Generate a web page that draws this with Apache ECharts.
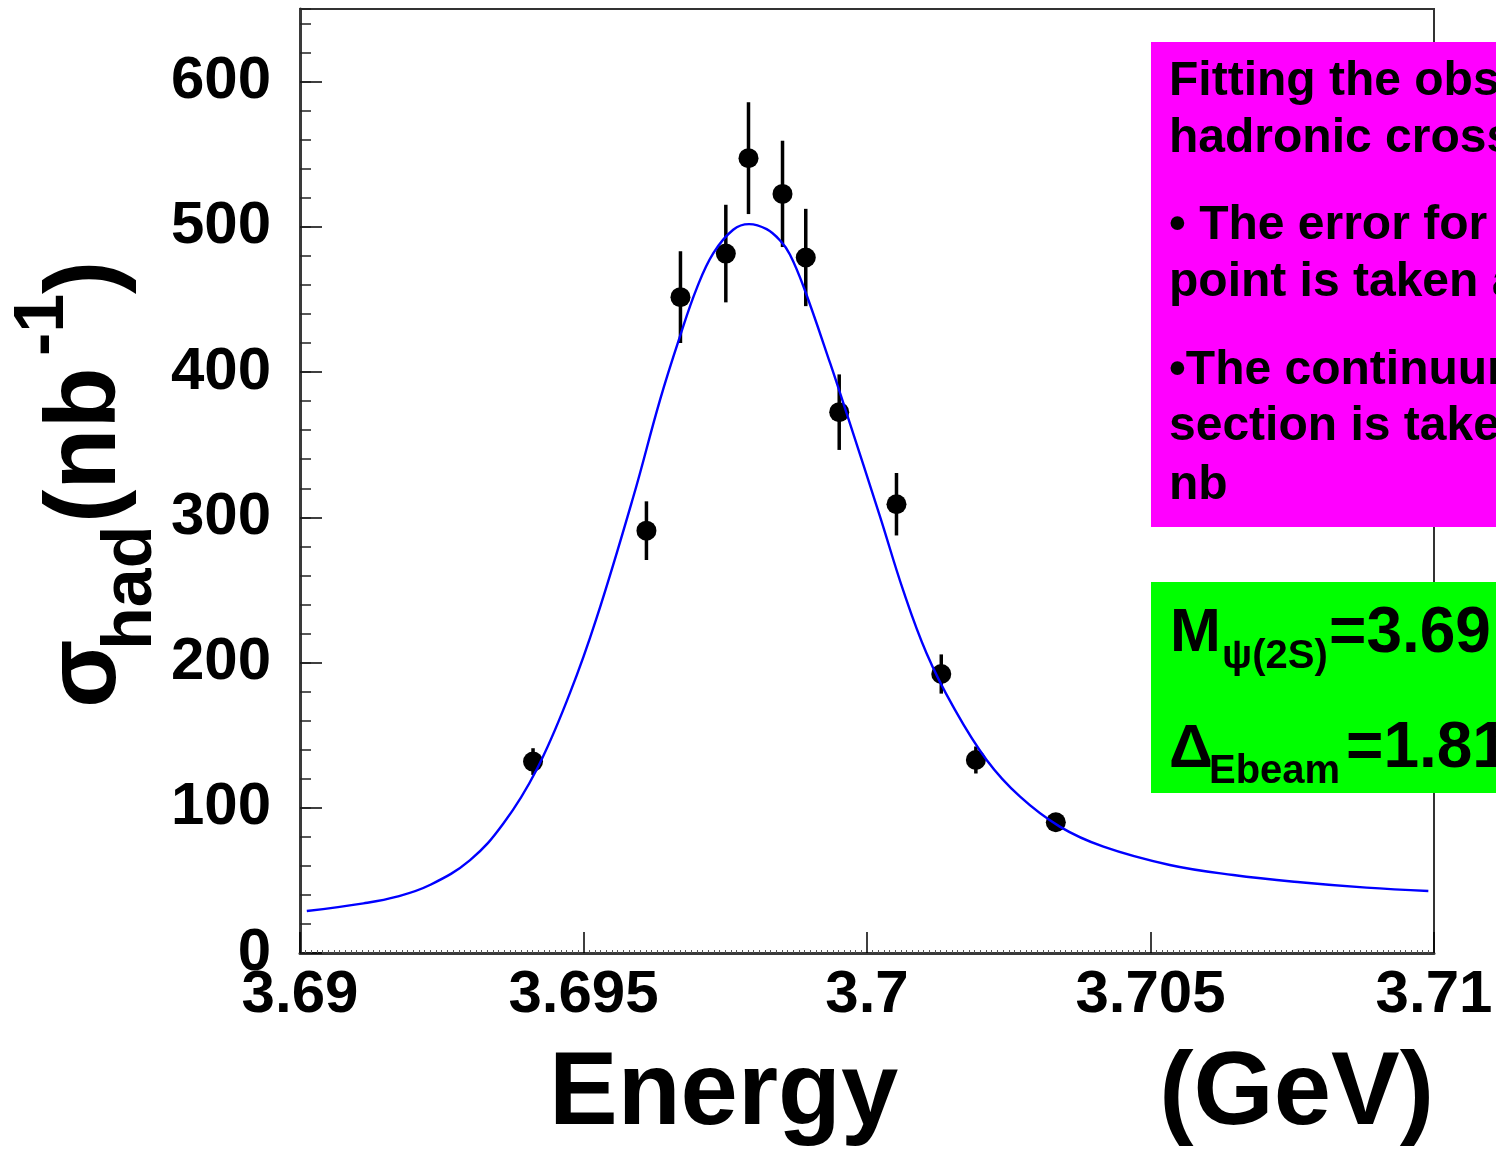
<!DOCTYPE html>
<html>
<head>
<meta charset="utf-8">
<script src="https://cdn.jsdelivr.net/npm/echarts@6/dist/echarts.min.js"></script>
<style>
html, body { margin: 0; padding: 0; background: #fff; }
#chart { width: 1496px; height: 1154px; }
</style>
</head>
<body>
<div id="chart"></div>
<script>
// Scan points: beam energy (GeV)
const energy = [3.69411, 3.69611, 3.69671, 3.69751, 3.69791, 3.69851, 3.69892, 3.69951, 3.70052, 3.70131, 3.70192, 3.70333];
// Observed hadronic cross section at each point (nb)
const sigma = [131.8, 290.8, 451.6, 481.6, 547.3, 522.7, 478.9, 372.4, 309.0, 192.1, 132.9, 90.0];
// Uncertainty of each point (nb)
const sigmaErr = [9.2, 20.2, 31.6, 33.6, 38.5, 36.6, 33.5, 26.0, 21.5, 13.5, 9.3, 6.3];

// Fitted resonance line shape
const fitEnergy = [3.69012, 3.69112, 3.69171, 3.69229, 3.69300, 3.69359, 3.69417, 3.69476, 3.69523,
  3.69588, 3.69635, 3.69670, 3.69700, 3.69729, 3.69764, 3.69792, 3.69823, 3.69847,
  3.69864, 3.69888, 3.69935, 3.69964, 3.70023, 3.70064, 3.70105, 3.70152, 3.70211, 3.70270,
  3.70340, 3.70417, 3.70534, 3.70646, 3.70764, 3.70881, 3.70990];
const fitSigma = [28.9, 34.2, 38.8, 46.8, 64.0, 89.3, 126.0, 178.9, 230.5,
  314.3, 380.9, 424.4, 458.0, 481.9, 498.0, 501.9, 498.4, 490.5,
  481.0, 458.9, 406.1, 371.7, 300.5, 249.5, 206.4, 169.6, 132.9, 107.6,
  87.0, 73.2, 60.6, 53.7, 48.7, 45.0, 42.7];

// Text of the annotation boxes
const noteLines = [
  'Fitting the observed',
  'hadronic cross section',
  '\u2022 The error for each',
  'point is taken as',
  '\u2022The continuum cross',
  'section is taken',
  'nb'
];
const massText = '=3.69';
const spreadText = '=1.81';

const FONT = '"Liberation Sans", Arial, Helvetica, sans-serif';
const f = (px) => 'bold ' + px + 'px ' + FONT;
// place text so its alphabetic baseline lands on `base` (verticalAlign middle)
const mid = (base, px) => base - 0.33 * px;

const chart = echarts.init(document.getElementById('chart'), null, { renderer: 'canvas' });

const noteBaselines = [98, 155, 242, 299, 387, 443, 502];
const noteTexts = noteLines.map((t, i) => ({
  type: 'text', z: 101,
  style: { text: t, x: 1169, y: mid(noteBaselines[i], 48), font: f(48), fill: '#000', align: 'left', verticalAlign: 'middle' }
}));

const option = {
  animation: false,
  backgroundColor: '#fff',
  grid: {
    left: 300, right: 62, top: 9, bottom: 201,
    show: true, borderColor: '#333', borderWidth: 2, backgroundColor: 'transparent',
    outerBoundsMode: 'none'
  },
  xAxis: {
    type: 'value', min: 3.69, max: 3.71, interval: 0.005,
    axisLine: { show: true, onZero: false, lineStyle: { color: '#3a3a3a', width: 3 } },
    axisTick: { show: true, inside: true, length: 21, lineStyle: { color: '#000', width: 1.5 } },
    minorTick: { show: true, splitNumber: 50, length: 3, lineStyle: { color: '#555', width: 1 } },
    axisLabel: { margin: 12, color: '#000', fontSize: 60, fontWeight: 'bold', fontFamily: FONT },
    splitLine: { show: false }, minorSplitLine: { show: false }
  },
  yAxis: [
    {
      type: 'value', min: 0, max: 650, interval: 100,
      axisLine: { show: true, onZero: false, lineStyle: { color: '#3a3a3a', width: 3 } },
      axisTick: { show: true, inside: true, length: 22, lineStyle: { color: '#000', width: 1.5 } },
      axisLabel: { margin: 29, color: '#000', fontSize: 60, fontWeight: 'bold', fontFamily: FONT, showMaxLabel: false },
      splitLine: { show: false }
    },
    {
      type: 'value', min: 0, max: 650, interval: 20, position: 'left',
      axisLine: { show: false },
      axisTick: { show: true, inside: true, length: 11, lineStyle: { color: '#222', width: 1.5 } },
      axisLabel: { show: false },
      splitLine: { show: false }
    }
  ],
  series: [
    {
      type: 'custom', z: 2,
      renderItem: function (params, api) {
        const x = api.value(0);
        const top = api.coord([x, api.value(2)]);
        const bot = api.coord([x, api.value(1)]);
        return {
          type: 'line',
          shape: { x1: top[0], y1: top[1], x2: bot[0], y2: bot[1] },
          style: { stroke: '#000', lineWidth: 3.5 }
        };
      },
      encode: { x: 0, y: [1, 2] },
      data: energy.map((e, i) => [e, sigma[i] - sigmaErr[i], sigma[i] + sigmaErr[i]])
    },
    {
      type: 'scatter', z: 2,
      symbol: 'circle', symbolSize: 20,
      itemStyle: { color: '#000', opacity: 1 },
      data: energy.map((e, i) => [e, sigma[i]])
    },
    {
      type: 'line', z: 3,
      smooth: 0.4, showSymbol: false,
      lineStyle: { color: '#0000ff', width: 2.4 },
      data: fitEnergy.map((e, i) => [e, fitSigma[i]])
    }
  ],
  graphic: [
    // x-axis title
    { type: 'text', z: 50, style: { text: 'Energy', x: 549, y: mid(1130, 103), font: f(103), fill: '#000', align: 'left', verticalAlign: 'middle' } },
    { type: 'text', z: 50, style: { text: '(GeV)', x: 1434, y: mid(1130, 103), font: f(103), fill: '#000', align: 'right', verticalAlign: 'middle' } },
    // y-axis title, reading bottom to top
    {
      type: 'group', x: 120, y: 708, rotation: Math.PI / 2, z: 50,
      children: [
        { type: 'text', style: { text: '\u03c3', x: 0, y: mid(0, 100), font: f(100), fill: '#000', align: 'left', verticalAlign: 'middle' } },
        { type: 'text', style: { text: 'had', x: 58, y: mid(35, 70), font: f(70), fill: '#000', align: 'left', verticalAlign: 'middle' } },
        { type: 'text', style: { text: '(nb', x: 185, y: mid(0, 100), font: f(100), fill: '#000', align: 'left', verticalAlign: 'middle' } },
        { type: 'text', style: { text: '-1', x: 352, y: mid(-53, 70), font: f(70), fill: '#000', align: 'left', verticalAlign: 'middle' } },
        { type: 'text', style: { text: ')', x: 414, y: mid(0, 100), font: f(100), fill: '#000', align: 'left', verticalAlign: 'middle' } }
      ]
    },
    // magenta note box
    { type: 'rect', z: 100, shape: { x: 1151, y: 42, width: 400, height: 485 }, style: { fill: '#ff00ff' } },
    ...noteTexts,
    // green fit-result box
    { type: 'rect', z: 100, shape: { x: 1151, y: 582, width: 400, height: 211 }, style: { fill: '#00ff00' } },
    { type: 'text', z: 101, style: { text: 'M', x: 1170, y: mid(654, 61), font: f(61), fill: '#000', align: 'left', verticalAlign: 'middle' } },
    { type: 'text', z: 101, style: { text: '\u03c8(2S)', x: 1222, y: mid(670, 40), font: f(40), fill: '#000', align: 'left', verticalAlign: 'middle' } },
    { type: 'text', z: 101, style: { text: massText, x: 1329, y: mid(655, 64), font: f(64), fill: '#000', align: 'left', verticalAlign: 'middle' } },
    { type: 'text', z: 101, style: { text: '\u0394', x: 1169, y: mid(770, 61), font: f(61), fill: '#000', align: 'left', verticalAlign: 'middle' } },
    { type: 'text', z: 101, style: { text: 'Ebeam', x: 1209, y: mid(785, 40), font: f(40), fill: '#000', align: 'left', verticalAlign: 'middle' } },
    { type: 'text', z: 101, style: { text: spreadText, x: 1346, y: mid(770, 64), font: f(64), fill: '#000', align: 'left', verticalAlign: 'middle' } }
  ]
};

chart.setOption(option);
</script>
</body>
</html>
